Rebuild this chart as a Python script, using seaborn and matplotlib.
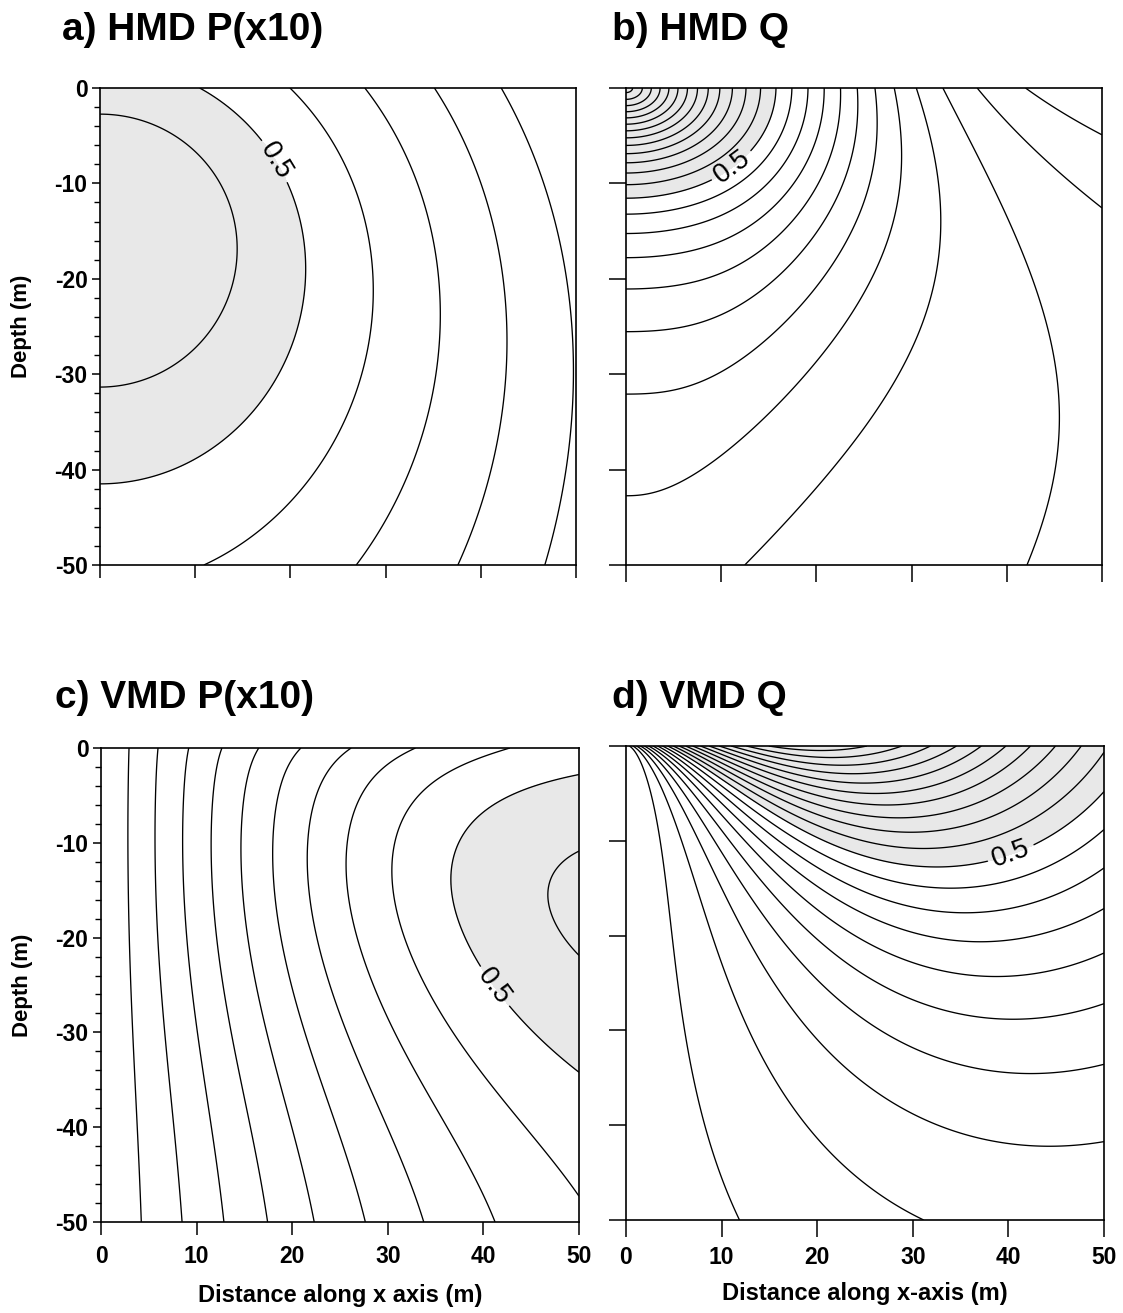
import numpy as np
import matplotlib
matplotlib.use("Agg")
import matplotlib.pyplot as plt
from matplotlib.ticker import MultipleLocator
import seaborn as sns

sns.set_theme(style="ticks")
plt.rcParams['font.family'] = ['Liberation Sans', 'DejaVu Sans']
for k in ('text.color', 'axes.labelcolor', 'xtick.color', 'ytick.color', 'axes.edgecolor'):
    plt.rcParams[k] = 'black'

# ---------------- readings (points on contour lines: x [m], z [m], level) ----------------
# a) HMD P(x10)
levels_a = [0.1, 0.2, 0.3, 0.4, 0.5, 0.6]
a_lev = [0.6]*9 + [0.5]*10 + [0.4]*8 + [0.3]*7 + [0.2]*7 + [0.1]*6
a_x = [0, 5.5, 10.4, 13.2, 14.4, 13.6, 11.2, 7.1, 0,
       10.4, 19.4, 21.6, 22.2, 21.6, 19.6, 15.6, 9.6, 3.5, 0,
       19.7, 25.6, 28.6, 29.0, 28.0, 24.8, 19.6, 12.2,
       27.4, 32.9, 35.5, 35.9, 34.9, 32.0, 27.2,
       34.9, 39.7, 42.5, 43.1, 42.1, 40.5, 37.7,
       42.3, 46.5, 49.3, 49.8, 48.9, 47.2]
a_z = [-2.5, -4.1, -7.7, -12.6, -16.6, -21.4, -26.2, -29.5, -31,
       0, -7.3, -12.6, -17.4, -23, -28.3, -33.5, -38.3, -41.5, -42.4,
       0, -8.9, -17, -21.4, -27, -35.1, -43.2, -50,
       0, -8.9, -17, -23, -31.1, -39.1, -50,
       0, -8.9, -19, -25, -33.1, -41.1, -50,
       0, -11, -23, -31, -39.1, -50]

# b) HMD Q : levels and field parameters read from the contour intercepts
levels_b = [-0.1, -0.05, 0.0, 0.05, 0.1, 0.15, 0.2, 0.25, 0.3, 0.35, 0.4, 0.45, 0.5,
            0.55, 0.6, 0.65, 0.7, 0.75, 0.8, 0.85, 0.9, 0.95, 1.0, 1.05, 1.1, 1.15]
b_core = [1.18, 0.0924, 0.127, 0.0152, 1.44]                  # radial profile + horizontal stretch
b_lobe = [0.297, 26.5, 0.2, 5.0, 0.062]                       # side lobe: amp, width, slope, power, slope
b_decay = [0.78, 19.0, 250.0]                                  # side lobe depth decay (weight, scale 1, scale 2)

# c) VMD P(x10) : levels and field parameters
levels_c = [0.05, 0.1, 0.15, 0.2, 0.25, 0.3, 0.35, 0.4, 0.45, 0.5, 0.55]
c_gain = [0.0108, 0.0070, 9.0, 30.0]              # depth gain: base, bump, bump depth, bump width
c_sat = [56.6, 0.52]                              # saturation distance (surface value, growth with depth)
c_pow = [2.15, 0.1, 12.0, 10.0, 0.55, 4.0]        # saturation power terms

# d) VMD Q
levels_d = [0.05, 0.1, 0.15, 0.2, 0.25, 0.3, 0.35, 0.4, 0.45, 0.5,
            0.55, 0.6, 0.65, 0.7, 0.75, 0.8, 0.85, 0.9, 0.95, 1.0]
d_x = [50, 50, 50, 50, 50, 50, 50, 50, 50,
       12.7, 30.5, 39.0, 42.6, 45.4, 24.5, 6.0,
       16.2, 21.0, 26.6, 29.0, 31.6, 33.9, 36.3, 39.1, 41.9, 45.1, 48.2,
       29.0, 40.0]
d_z = [-2.35, -5.7, -8.8, -12.9, -16.7, -21.5, -27.2, -34.0, -42.8,
       -50, -50, -28.5, -34.6, -42.8, -46.5, -30,
       0, -0.9, 0, 0, 0, 0, 0, 0, 0, 0, 0,
       -12.5, -10.6]
d_lev = [0.55, 0.5, 0.45, 0.4, 0.35, 0.3, 0.25, 0.2, 0.15,
         0.05, 0.1, 0.25, 0.2, 0.15, 0.1, 0.05,
         1.0, 1.0, 1.0, 0.95, 0.9, 0.85, 0.8, 0.75, 0.7, 0.65, 0.6,
         0.5, 0.5]

# ---------------- fields ----------------
xg = np.linspace(0, 50, 401)
zg = np.linspace(-50, 0, 401)
X, Z = np.meshgrid(xg, zg)


def lsq_field(px, pz, pl, basis):
    px = np.asarray(px, float)
    pz = np.asarray(pz, float)
    A = np.column_stack([f(px, pz) for f in basis])
    coef, *_ = np.linalg.lstsq(A, np.asarray(pl, float), rcond=None)
    return sum(c * f(X, Z) for c, f in zip(coef, basis))


# a: hyperbolic cone plus depth terms (least squares on the readings)
def rho_a(x, z):
    u, v = x / 50.0, -z / 50.0
    return np.sqrt(u**2 + (1.1 * (v - 0.26))**2 + 0.004)

basis_a = [lambda x, z: np.ones_like(x), rho_a,
           lambda x, z: -z / 50.0, lambda x, z: (z / 50.0)**2,
           lambda x, z: (x / 50.0)**2, lambda x, z: (x / 50.0)**2 * (-z / 50.0)]
Fa = lsq_field(a_x, a_z, a_lev, basis_a)


# b: main lobe minus side lobe
def field_b(x, z):
    d = -z
    h0, hb, he, hg, ex = b_core
    B, w0, wk, n0, nk = b_lobe
    a1, l1, l2 = b_decay
    R = np.sqrt((x / ex)**2 + d**2)
    t1 = (h0 + hb * R) / (1 + he * R + hg * R**2)
    w = w0 - wk * d
    n = n0 - nk * d
    S = x**n / (x**n + w**n)
    D = a1 * np.exp(-d / l1) + (1 - a1) * np.exp(-d / l2)
    return t1 - B * S * D

Fb = field_b(X, Z)


# c: linear rise in x with depth gain and saturation
def field_c(x, z):
    d = -z
    qb, qa, qm, qw = c_gain
    X0, Xk = c_sat
    m_inf, mb, mm, mw, ms, md = c_pow
    q = qb + qa * np.exp(-((d - qm) / qw)**2)
    Xs = X0 + Xk * d
    m = m_inf + mb * np.exp(-((d - mm) / mw)**2) - ms * np.exp(-d / md)
    return x * q / (1.0 + (x / Xs)**m)

Fc = field_c(X, Z)


# d: radial x angular shape (least squares on the readings)
def _g_d(x, z):
    r = np.hypot(x, z)
    th = np.arctan2(-z, x)
    ang = np.exp(-1.35 * th) * np.clip(np.cos(th), 0, None)**0.44
    return r * np.exp(-r / 21.0) * ang, r / 50.0, th

basis_d = [lambda x, z: _g_d(x, z)[0],
           lambda x, z: _g_d(x, z)[0] * _g_d(x, z)[1],
           lambda x, z: _g_d(x, z)[0] * _g_d(x, z)[2],
           lambda x, z: _g_d(x, z)[0] * _g_d(x, z)[2]**2,
           lambda x, z: _g_d(x, z)[0] * _g_d(x, z)[1] * _g_d(x, z)[2]]
Fd = lsq_field(d_x, d_z, d_lev, basis_d)

# ---------------- figure ----------------
W, H = 1123, 1313
fig = plt.figure(figsize=(W / 100, H / 100), dpi=100)

def add_ax(l, t, r, b):
    return fig.add_axes([l / W, 1 - b / H, (r - l) / W, (b - t) / H])

ax_a = add_ax(100, 88, 576, 565)
ax_b = add_ax(626, 88, 1102, 565)
ax_c = add_ax(101, 748, 579, 1222)
ax_d = add_ax(626, 746, 1104, 1220)

panels = [(ax_a, Fa, levels_a, (19.5, -7.0), 'a) HMD P(x10)', (62, 30)),
          (ax_b, Fb, levels_b, (10.9, -7.9), 'b) HMD Q', (612, 30)),
          (ax_c, Fc, levels_c, (40.7, -25.5), 'c) VMD P(x10)', (55, 698)),
          (ax_d, Fd, levels_d, (40.0, -10.6), 'd) VMD Q', (612, 698))]

for ax, F, lev, lab_pos, title, tpos in panels:
    ax.contourf(X, Z, F, levels=[0.5, max(F.max(), 0.51) + 1], colors=['#e8e8e8'])
    ax.contour(X, Z, F, levels=[l for l in lev if l != 0.5], colors='black',
               linewidths=0.95, negative_linestyles='solid')
    sub = ax.contour(X, Z, F, levels=[0.5], colors='black', linewidths=0.95)
    ax.clabel(sub, levels=[0.5], fmt={0.5: '0.5'}, fontsize=20, inline=True,
              inline_spacing=5, manual=[lab_pos])
    ax.set_xlim(0, 50)
    ax.set_ylim(-50, 0)
    for sp in ax.spines.values():
        sp.set_linewidth(1.2)
        sp.set_color('black')
    fig.text(tpos[0] / W, 1 - tpos[1] / H, title, fontsize=28, fontweight='bold',
             ha='left', va='center', color='black')

# ticks
for ax in (ax_a, ax_c):
    ax.set_yticks([0, -10, -20, -30, -40, -50])
    ax.set_yticklabels(['0', '-10', '-20', '-30', '-40', '-50'], fontweight='bold', fontsize=16.5)
    ax.yaxis.set_minor_locator(MultipleLocator(2))
    ax.tick_params(axis='y', which='major', direction='out', length=6, width=1.1, pad=3)
    ax.tick_params(axis='y', which='minor', direction='out', length=4.5, width=1.0)
    ax.set_ylabel('Depth (m)', fontsize=16, fontweight='bold')
    ax.yaxis.set_label_coords(-0.143, 0.5)
for ax in (ax_b, ax_d):
    ax.set_yticks([0, -10, -20, -30, -40, -50])
    ax.set_yticklabels([])
    ax.tick_params(axis='y', which='major', direction='out', length=12, width=1.1)
for ax in (ax_a, ax_b, ax_c, ax_d):
    ax.set_xticks([0, 10, 20, 30, 40, 50])
    ax.tick_params(axis='x', which='major', direction='out',
                   length=9.5 if ax in (ax_a, ax_c) else 12, width=1.1, pad=7)
for ax in (ax_a, ax_b):
    ax.set_xticklabels([])
for ax in (ax_c, ax_d):
    ax.set_xticklabels(['0', '10', '20', '30', '40', '50'], fontweight='bold', fontsize=16.5)
ax_c.set_xlabel('Distance along x axis (m)', fontsize=17, fontweight='bold')
ax_d.set_xlabel('Distance along x-axis (m)', fontsize=17, fontweight='bold')
ax_c.xaxis.set_label_coords(0.5, -0.13)
ax_d.xaxis.set_label_coords(0.5, -0.13)

fig.savefig('out.png', dpi=100)
